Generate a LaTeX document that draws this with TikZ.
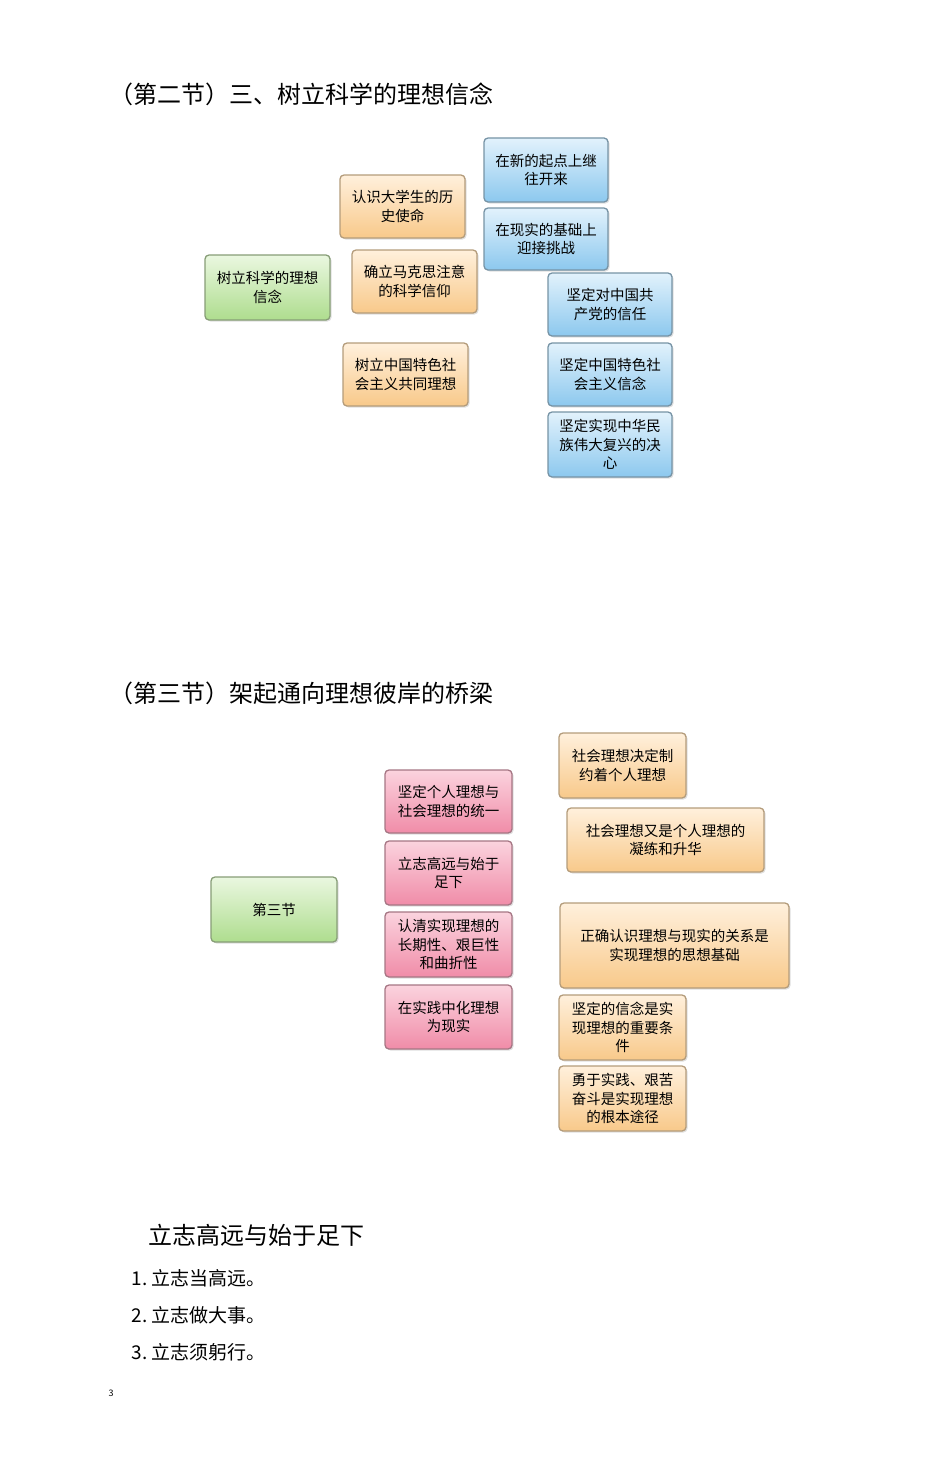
\documentclass[tikz,border=0pt]{standalone}
\usepackage{fontspec}
\setmainfont{Noto Sans CJK SC}
\usetikzlibrary{shadows}
\definecolor{pk1}{HTML}{FBD3DE}
\definecolor{pk2}{HTML}{F08CA8}
\definecolor{gr1}{HTML}{EAF7E0}
\definecolor{gr2}{HTML}{AEDD8E}
\definecolor{or1}{HTML}{FFF0DC}
\definecolor{or2}{HTML}{F8C98A}
\definecolor{bl1}{HTML}{E2F2FC}
\definecolor{bl2}{HTML}{8CC8EE}
\tikzset{
 bx/.style={rounded corners=4pt, line width=1.3pt, align=center,
   font=\fontsize{14.5}{18.5}\selectfont, inner sep=1pt, drop shadow={opacity=0.25,shadow xshift=1.5pt,shadow yshift=-1.5pt}},
 gbox/.style={bx, top color=gr1, bottom color=gr2, draw=gr2!60!black!80},
 obox/.style={bx, top color=or1, bottom color=or2, draw=or2!65!black!80},
 bbox/.style={bx, top color=bl1, bottom color=bl2, draw=bl2!60!black!80},
 pbox/.style={bx, top color=pk1, bottom color=pk2, draw=pk2!60!black!80},
 ttl/.style={anchor=west, font=\fontsize{24}{28}\selectfont},
 lst/.style={anchor=west, font=\fontsize{19}{22}\selectfont},
}
\newcommand{\bxat}[7]{\node[#1, minimum width={#4-#2}, minimum height={#5-#3}, text width={#4-#2-6}] (#6) at ({(#2+#4)/2},{(#3+#5)/2}) {#7};}
\begin{document}
\begin{tikzpicture}[x=1pt,y=-1pt]
\useasboundingbox (0,0) rectangle (950,1469);
\node[ttl] (t1) at (106,94) {（第二节）三、树立科学的理想信念};
\bxat{gbox}{205}{255}{330}{320}{g1}{树立科学的理想\\信念}
\bxat{obox}{340}{175}{465}{238}{o1}{认识大学生的历\\史使命}
\bxat{obox}{352}{250}{477}{313}{o2}{确立马克思注意\\的科学信仰}
\bxat{obox}{343}{343}{468}{406}{o3}{树立中国特色社\\会主义共同理想}
\bxat{bbox}{484}{138}{608}{202}{b1}{在新的起点上继\\往开来}
\bxat{bbox}{484}{208}{608}{270}{b2}{在现实的基础上\\迎接挑战}
\bxat{bbox}{548}{273}{672}{336}{b3}{坚定对中国共\\产党的信任}
\bxat{bbox}{548}{343}{672}{406}{b4}{坚定中国特色社\\会主义信念}
\bxat{bbox}{548}{412}{672}{477}{b5}{坚定实现中华民\\族伟大复兴的决\\心}
\node[ttl] (t2) at (106,693) {（第三节）架起通向理想彼岸的桥梁};
\bxat{gbox}{211}{877}{337}{942}{g2}{第三节}
\bxat{pbox}{385}{770}{512}{833}{p1}{坚定个人理想与\\社会理想的统一}
\bxat{pbox}{385}{841}{512}{905}{p2}{立志高远与始于\\足下}
\bxat{pbox}{385}{912}{512}{977}{p3}{认清实现理想的\\长期性、艰巨性\\和曲折性}
\bxat{pbox}{385}{985}{512}{1049}{p4}{在实践中化理想\\为现实}
\bxat{obox}{559}{733}{686}{798}{q1}{社会理想决定制\\约着个人理想}
\bxat{obox}{567}{808}{764}{872}{q2}{社会理想又是个人理想的\\凝练和升华}
\bxat{obox}{560}{903}{789}{988}{q3}{正确认识理想与现实的关系是\\实现理想的思想基础}
\bxat{obox}{559}{995}{686}{1060}{q4}{坚定的信念是实\\现理想的重要条\\件}
\bxat{obox}{559}{1066}{686}{1131}{q5}{勇于实践、艰苦\\奋斗是实现理想\\的根本途径}
\node[ttl] (t3) at (145,1235) {立志高远与始于足下};
\node[lst] (l1) at (128,1278) {1.\ 立志当高远。};
\node[lst] (l2) at (128,1315) {2.\ 立志做大事。};
\node[lst] (l3) at (128,1352) {3.\ 立志须躬行。};
\node[font=\fontsize{9}{10}\selectfont] (pg) at (111,1393) {3};
\end{tikzpicture}
\end{document}
